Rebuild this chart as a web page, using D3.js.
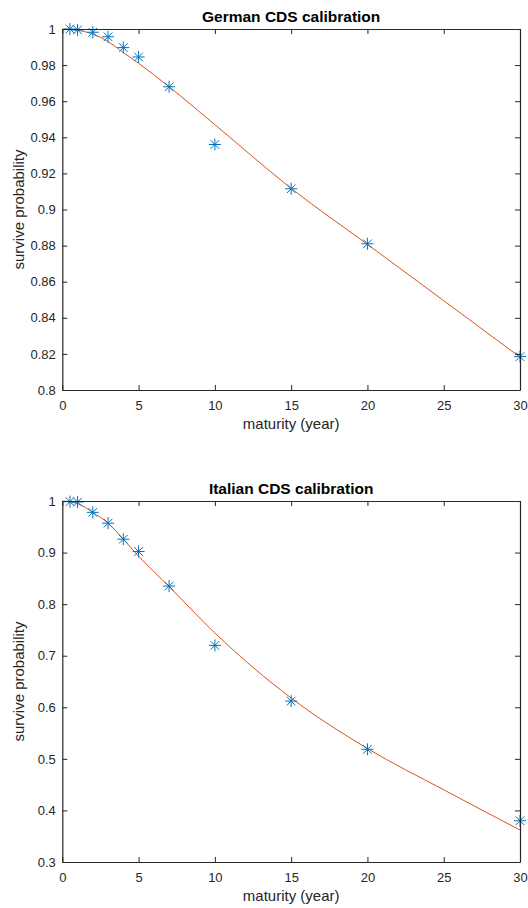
<!DOCTYPE html>
<html>
<head>
<meta charset="utf-8">
<script src="https://cdn.jsdelivr.net/npm/d3@7"></script>
<style>
  body { margin: 0; background: #fff; }
  svg text { font-family: "Liberation Sans", Arial, sans-serif; fill: #262626; }
  .title { font-size: 15.5px; font-weight: bold; fill: #000; }
  .lab { font-size: 15px; }
</style>
</head>
<body>
<svg id="chart" width="528" height="908"></svg>
<script>
// maturities of the quoted CDS
var maturities = [0.5, 1, 2, 3, 4, 5, 7, 10, 15, 20, 30];

// market-implied survival probabilities (stars)
var germanMarket = [1.0, 0.9995, 0.9982, 0.9957, 0.9897, 0.9845, 0.968, 0.936, 0.9115, 0.881, 0.8185];
var italianMarket = [0.9988, 0.998, 0.978, 0.957, 0.926, 0.902, 0.835, 0.72, 0.612, 0.5185, 0.38];

// calibrated model curve (orange line)
var curveX = [0, 0.5, 1, 2, 3, 4, 5, 7, 10, 15, 20, 25, 30];
var germanModel = [1.0, 0.9998, 0.9993, 0.9972, 0.993, 0.987, 0.981, 0.968, 0.947, 0.9117, 0.8807, 0.8495, 0.8182];
var italianModel = [1.0, 0.9985, 0.995, 0.978, 0.957, 0.926, 0.893, 0.834, 0.744, 0.618, 0.52, 0.44, 0.362];

var xTicks = [0, 5, 10, 15, 20, 25, 30];
var germanTicks = [0.8, 0.82, 0.84, 0.86, 0.88, 0.9, 0.92, 0.94, 0.96, 0.98, 1];
var italianTicks = [0.3, 0.4, 0.5, 0.6, 0.7, 0.8, 0.9, 1];

var svg = d3.select("#chart");
var axisCol = "#262626";

function panel(top, title, yDomain, yTicks, market, model) {
  var left = 62.3, right = 520, height = 361;
  var x = d3.scaleLinear().domain([0, 30]).range([left, right]);
  var y = d3.scaleLinear().domain(yDomain).range([top + height, top]);
  var g = svg.append("g");

  // model line
  var line = d3.line()
    .x(function(d, i) { return x(curveX[i]); })
    .y(function(d) { return y(d); })
    .curve(d3.curveMonotoneX);
  g.append("path")
    .datum(model)
    .attr("d", line)
    .attr("fill", "none")
    .attr("stroke", "#D95319")
    .attr("stroke-width", 1);

  // asterisk markers
  var s = 6, sd = s * 0.72;
  var star = "M" + (-s) + ",0H" + s + "M0," + (-s) + "V" + s +
    "M" + (-sd) + "," + (-sd) + "L" + sd + "," + sd +
    "M" + (-sd) + "," + sd + "L" + sd + "," + (-sd);
  g.selectAll(".pt")
    .data(market)
    .enter().append("path")
    .attr("class", "pt")
    .attr("transform", function(d, i) { return "translate(" + x(maturities[i]) + "," + y(d) + ")"; })
    .attr("d", star)
    .attr("fill", "none")
    .attr("stroke", "#0072BD")
    .attr("stroke-width", 1);

  // axes (ticks inward, box)
  var fmt = function(d) { return d3.format("")(+d.toFixed(2)); };
  var xb = g.append("g").attr("transform", "translate(0," + y(yDomain[0]) + ")")
    .call(d3.axisBottom(x).tickValues(xTicks).tickSizeInner(-5).tickSizeOuter(0).tickPadding(10.7));
  var xt = g.append("g").attr("transform", "translate(0," + top + ")")
    .call(d3.axisTop(x).tickValues(xTicks).tickSizeInner(-5).tickSizeOuter(0).tickFormat(""));
  var yl = g.append("g").attr("transform", "translate(" + left + ",0)")
    .call(d3.axisLeft(y).tickValues(yTicks).tickSizeInner(-5).tickSizeOuter(0).tickPadding(6.5).tickFormat(fmt));
  var yr = g.append("g").attr("transform", "translate(" + right + ",0)")
    .call(d3.axisRight(y).tickValues(yTicks).tickSizeInner(-5).tickSizeOuter(0).tickFormat(""));
  [xb, xt, yl, yr].forEach(function(a) {
    a.select(".domain").attr("stroke", axisCol).attr("stroke-width", 1.2);
    a.selectAll(".tick line").attr("stroke", axisCol).attr("stroke-width", 1);
    a.selectAll(".tick text").attr("fill", axisCol)
      .style("font-family", "'Liberation Sans', Arial, sans-serif").style("font-size", "13px");
  });

  // labels
  g.append("text").attr("class", "title")
    .attr("x", (left + right) / 2).attr("y", top - 7.5)
    .attr("text-anchor", "middle").text(title);
  g.append("text").attr("class", "lab")
    .attr("x", (left + right) / 2).attr("y", top + height + 39)
    .attr("text-anchor", "middle").text("maturity (year)");
  g.append("text").attr("class", "lab")
    .attr("transform", "translate(24," + (top + height / 2) + ") rotate(-90)")
    .attr("text-anchor", "middle").text("survive probability");
}

panel(29, "German CDS calibration", [0.8, 1], germanTicks, germanMarket, germanModel);
panel(501, "Italian CDS calibration", [0.3, 1], italianTicks, italianMarket, italianModel);
</script>
</body>
</html>
